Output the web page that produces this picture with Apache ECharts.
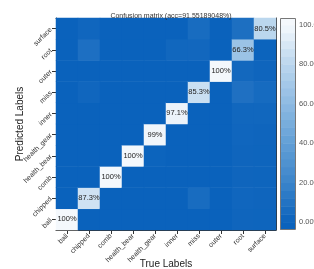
<!DOCTYPE html>
<html>
<head>
<meta charset="utf-8">
<script src="https://cdn.jsdelivr.net/npm/echarts@6/dist/echarts.min.js"></script>
<style>
html, body { margin: 0; padding: 0; background: #fff; }
#main { width: 314px; height: 269px; }
</style>
</head>
<body>
<div id="main"></div>
<script>
// labels, same order on both axes
var classes = ['ball', 'chipped', 'comb', 'health_bear', 'health_gear', 'inner', 'miss', 'outer', 'root', 'surface']

// one array per true label, values by predicted label (%)
var ballCol = [100, 0, 0, 0, 0, 0, 0, 0, 0, 0]
var chippedCol = [0, 87.3, 0, 0, 0, 0, 2.4, 0, 7.9, 2.4]
var combCol = [0, 0, 100, 0, 0, 0, 0, 0, 0, 0]
var healthBearCol = [0, 0, 0, 100, 0, 0, 0, 0, 0, 0]
var healthGearCol = [0, 0, 0, 1, 99, 0, 0, 0, 0, 0]
var innerCol = [0, 0, 0, 0, 0, 97.1, 0, 0, 2.9, 0]
var missCol = [0, 5.9, 0, 0, 0, 0, 85.3, 0, 3.1, 5.7]
var outerCol = [0, 0, 0, 0, 0, 0, 0, 100, 0, 0]
var rootCol = [2, 2.5, 2, 2, 2.5, 3, 8.5, 3.5, 66.3, 7.7]
var surfaceCol = [1.5, 2, 1.5, 1.5, 2, 3, 5, 2, 1, 80.5]

var columns = [ballCol, chippedCol, combCol, healthBearCol, healthGearCol,
  innerCol, missCol, outerCol, rootCol, surfaceCol]

var cbTicks = [0, 20, 40, 60, 80, 100]
var titleText = 'Confusion matrix (acc=91.55189048%)'

var font = 'Liberation Sans, Arial, sans-serif'

var cells = []
for (var i = 0; i < columns.length; i++) {
  for (var j = 0; j < columns[i].length; j++) {
    cells.push([i, j, columns[i][j]])
  }
}

// colorbar bands (white below 0 and above 100, like the original)
var bands = [[-3.5, 0, -1.75]]
for (var v = 0; v < 100; v += 4) {
  bands.push([v, v + 4, v + 2])
}
bands.push([100, 103.5, 101.75])

var chart = echarts.init(document.getElementById('main'), null, { renderer: 'canvas' })

var option = {
  animation: false,
  textStyle: { fontFamily: font },
  title: {
    text: titleText,
    left: 166,
    top: 8,
    textAlign: 'center',
    textStyle: { fontSize: 7, fontWeight: 'normal', color: '#333', fontFamily: font }
  },
  grid: [{
    left: 56, top: 18, width: 220, height: 212, outerBoundsMode: 'none', containLabel: false
  }, {
    left: 280, top: 18, width: 15, height: 211, outerBoundsMode: 'none', containLabel: false
  }],
  visualMap: {
    show: false,
    min: 0,
    max: 100,
    dimension: 2,
    seriesIndex: [0, 1],
    inRange: { color: ['#0a62bc', '#3b84ca', '#629fd6', '#8dbae2', '#bad6ee', '#f4f8fc'] },
    outOfRange: { color: '#ffffff' }
  },
  xAxis: [{
    type: 'category',
    gridIndex: 0,
    data: classes,
    name: 'True Labels',
    nameLocation: 'middle',
    nameGap: 29,
    nameMoveOverlap: false,
    nameTextStyle: { fontSize: 10, color: '#222', fontFamily: font },
    axisLine: { show: true, lineStyle: { color: '#333', width: 1 } },
    axisTick: { show: true, alignWithLabel: true, length: 4, lineStyle: { color: '#333' } },
    axisLabel: { rotate: 45, fontSize: 7, color: '#333', margin: 5, interval: 0, fontFamily: font },
    splitLine: { show: false }
  }, {
    type: 'category',
    gridIndex: 0,
    data: classes,
    position: 'top',
    axisLine: { show: true, onZero: false, lineStyle: { color: '#333', width: 1 } },
    axisTick: { show: false },
    axisLabel: { show: false }
  }, {
    type: 'value',
    gridIndex: 1,
    min: 0,
    max: 1,
    show: false
  }],
  yAxis: [{
    type: 'category',
    gridIndex: 0,
    data: classes,
    name: 'Predicted Labels',
    nameLocation: 'middle',
    nameGap: 31,
    nameMoveOverlap: false,
    nameTextStyle: { fontSize: 10, color: '#222', fontFamily: font },
    axisLine: { show: true, lineStyle: { color: '#333', width: 1 } },
    axisTick: { show: true, alignWithLabel: true, length: 4, lineStyle: { color: '#333' } },
    axisLabel: { rotate: 45, fontSize: 7, color: '#333', margin: 5, interval: 0, fontFamily: font },
    splitLine: { show: false }
  }, {
    type: 'category',
    gridIndex: 0,
    data: classes,
    position: 'right',
    axisLine: { show: true, onZero: false, lineStyle: { color: '#333', width: 1 } },
    axisTick: { show: false },
    axisLabel: { show: false }
  }, {
    type: 'value',
    gridIndex: 1,
    min: -3.5,
    max: 103.5,
    position: 'right',
    axisLine: { show: false },
    splitLine: { show: false },
    axisTick: { show: true, length: 3, customValues: cbTicks, lineStyle: { color: '#666' } },
    axisLabel: {
      customValues: cbTicks,
      fontSize: 7.5,
      color: '#555',
      margin: 4,
      fontFamily: font,
      formatter: function (val) { return val.toFixed(2) + '%' }
    }
  }],
  series: [{
    type: 'heatmap',
    xAxisIndex: 0,
    yAxisIndex: 0,
    data: cells,
    label: {
      show: true,
      fontSize: 7.5,
      color: '#222',
      fontFamily: font,
      formatter: function (p) {
        return p.value[0] === p.value[1] ? p.value[2] + '%' : ''
      }
    },
    itemStyle: { borderWidth: 0 },
    emphasis: { disabled: true }
  }, {
    type: 'custom',
    xAxisIndex: 2,
    yAxisIndex: 2,
    data: bands,
    silent: true,
    renderItem: function (params, api) {
      var p0 = api.coord([0, api.value(0)])
      var p1 = api.coord([1, api.value(1)])
      return {
        type: 'rect',
        shape: { x: p0[0], y: p1[1], width: p1[0] - p0[0], height: p0[1] - p1[1] + 0.5 },
        style: { fill: api.visual('color') }
      }
    }
  }],
  graphic: [{
    // colorbar outline
    type: 'rect',
    shape: { x: 280.5, y: 18.5, width: 15, height: 211 },
    style: { fill: 'none', stroke: '#777', lineWidth: 1 },
    z: 10
  }]
}

chart.setOption(option)
</script>
</body>
</html>
